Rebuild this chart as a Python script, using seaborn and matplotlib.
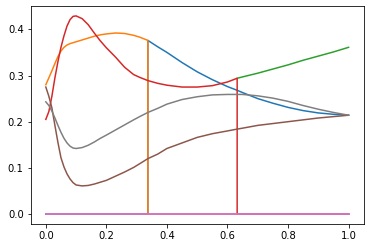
import pandas as pd
import matplotlib
matplotlib.use("Agg")
import matplotlib.pyplot as plt
import seaborn as sns

# x grid of the smooth parts
x_grid = [0, .01, .02, .03, .04, .05, .06, .07, .08, .09, .10, .12, .14, .16, .18,
          .20, .23, .26, .29, .31, .337, .37, .40, .45, .50, .55, .60, .632, .65,
          .70, .75, .80, .85, .90, .95, 1.0]
x_cut1 = 0.337   # orange drops / blue jumps
x_cut2 = 0.632   # red drops / green starts

x_before_cut1 = [x for x in x_grid if x <= x_cut1]
x_after_cut1 = [x for x in x_grid if x >= x_cut1]
x_before_cut2 = [x for x in x_grid if x <= x_cut2]
x_after_cut2 = [x for x in x_grid if x >= x_cut2]

orange_vals = [0.280, 0.295, 0.310, 0.326, 0.341, 0.353, 0.361, 0.366, 0.369, 0.371,
               0.373, 0.377, 0.381, 0.385, 0.388, 0.390, 0.392, 0.391, 0.387, 0.383,
               0.376]
blue_vals = [0.376, 0.362, 0.350, 0.328, 0.308, 0.291, 0.276, 0.268, 0.263, 0.250,
             0.240, 0.231, 0.224, 0.219, 0.216, 0.214]
red_vals = [0.205, 0.222, 0.255, 0.295, 0.330, 0.361, 0.386, 0.407, 0.421, 0.428,
            0.429, 0.423, 0.410, 0.392, 0.375, 0.360, 0.340, 0.318, 0.302, 0.296,
            0.289, 0.283, 0.279, 0.275, 0.275, 0.278, 0.286, 0.294]
green_vals = [0.294, 0.297, 0.305, 0.314, 0.323, 0.333, 0.342, 0.351, 0.361]
brown_vals = [0.275, 0.255, 0.230, 0.192, 0.155, 0.122, 0.102, 0.087, 0.076, 0.068,
              0.063, 0.061, 0.062, 0.065, 0.069, 0.073, 0.082, 0.091, 0.101, 0.109,
              0.120, 0.130, 0.142, 0.154, 0.166, 0.174, 0.180, 0.184, 0.186, 0.192,
              0.196, 0.200, 0.204, 0.208, 0.211, 0.214]
gray_vals = [0.243, 0.235, 0.223, 0.208, 0.192, 0.177, 0.164, 0.154, 0.147, 0.143,
             0.142, 0.144, 0.149, 0.156, 0.164, 0.171, 0.182, 0.193, 0.204, 0.211,
             0.220, 0.229, 0.238, 0.248, 0.254, 0.258, 0.259, 0.259, 0.259, 0.256,
             0.251, 0.244, 0.235, 0.227, 0.220, 0.214]

series = {
    "C0": ([0, x_cut1] + x_after_cut1, [0, 0] + blue_vals),
    "C1": (x_before_cut1 + [x_cut1, 1.0], orange_vals + [0, 0]),
    "C2": (x_after_cut2, green_vals),
    "C3": (x_before_cut2 + [x_cut2, 1.0], red_vals + [0, 0]),
    "C4": ([0, 1.0], [0, 0]),
    "C5": (x_grid, brown_vals),
    "C6": ([0, 1.0], [0, 0]),
    "C7": (x_grid, gray_vals),
}

rows = []
for name, (xs, ys) in series.items():
    for xv, yv in zip(xs, ys):
        rows.append({"x": xv, "y": yv, "line": name})
df = pd.DataFrame(rows)

names = list(series.keys())
palette = dict(zip(names, sns.color_palette("tab10", 8)))

fig = plt.figure(figsize=(372 / 72, 248 / 72), dpi=72)
ax = fig.add_axes([0.0825, 0.0968, 0.8952, 0.879])
sns.lineplot(data=df, x="x", y="y", hue="line", hue_order=names, palette=palette,
             estimator=None, sort=False, legend=False, linewidth=1.5, ax=ax)
ax.set_xlabel("")
ax.set_ylabel("")
ax.set_xticks([0.0, 0.2, 0.4, 0.6, 0.8, 1.0])
ax.set_yticks([0.0, 0.1, 0.2, 0.3, 0.4])
plt.savefig("out.png", dpi=72)
